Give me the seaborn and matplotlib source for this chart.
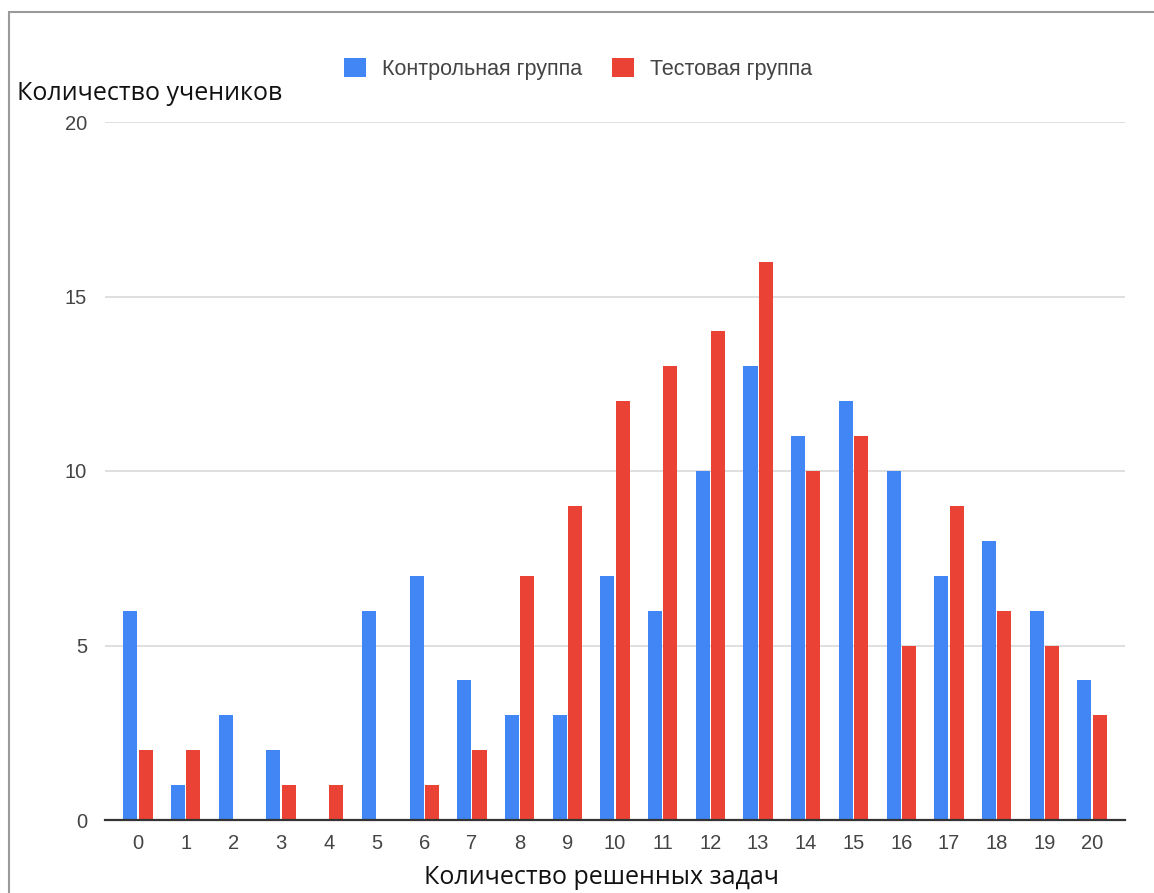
import pandas as pd
import matplotlib.pyplot as plt
import seaborn as sns
from matplotlib.patches import Rectangle, Patch

# Data
solved = list(range(21))
control = [6, 1, 3, 2, 0, 6, 7, 4, 3, 3, 7, 6, 10, 13, 11, 12, 10, 7, 8, 6, 4]
test = [2, 2, 0, 1, 1, 0, 1, 2, 7, 9, 12, 13, 14, 16, 10, 11, 5, 9, 6, 5, 3]
groups = ["Контрольная группа", "Тестовая группа"]
colors = ["#4285F4", "#EA4335"]

df = pd.DataFrame({
    "solved": solved * 2,
    "count": control + test,
    "group": [groups[0]] * len(solved) + [groups[1]] * len(solved),
})

sns.set_style("white")
plt.rcParams["font.family"] = ["Liberation Sans", "DejaVu Sans"]

fig = plt.figure(figsize=(11.54, 8.93), dpi=100)
ax = fig.add_axes([105 / 1154, 1 - 820 / 893, 1020 / 1154, 698 / 893])

sns.barplot(data=df, x="solved", y="count", hue="group", palette=colors,
            width=0.64, gap=0.08, ax=ax, legend=False, saturation=1,
            linewidth=0)

ax.set_xlim(-0.69, 20.69)
ax.set_ylim(0, 20)
ax.set_yticks([0, 5, 10, 15, 20])
ax.yaxis.grid(True, color="#d9d9d9", linewidth=1.2)
ax.set_axisbelow(True)
for s in ["top", "right", "left"]:
    ax.spines[s].set_visible(False)
ax.spines["bottom"].set_color("#333333")
ax.spines["bottom"].set_linewidth(1.6)
ax.tick_params(axis="both", length=0, labelsize=14.5, labelcolor="#444444")
ax.tick_params(axis="x", pad=10)
ax.tick_params(axis="y", pad=13)
ax.set_xlabel("")
ax.set_ylabel("")

# Axis titles, placed like the original
fig.text(17 / 1154, 1 - 94 / 893, "Количество учеников", fontsize=18,
         family=["Open Sans", "DejaVu Sans"], color="#111111", va="center", ha="left")
fig.text(601 / 1154, 1 - 877 / 893, "Количество решенных задач", fontsize=18,
         family=["Open Sans", "DejaVu Sans"], color="#111111", va="center", ha="center")

# Legend
handles = [Patch(facecolor=c, edgecolor="none") for c in colors]
fig.legend(handles, groups, loc="center", bbox_to_anchor=(578 / 1154, 1 - 69 / 893),
           ncol=2, frameon=False, fontsize=15.5, labelcolor="#444444",
           handlelength=1.02, handleheight=1.0, handletextpad=0.75, columnspacing=1.4)

# Outer frame
fig.patches.append(Rectangle((9 / 1154, -0.05), 1.2, 1 - 12 / 893 + 0.05,
                             transform=fig.transFigure, fill=False,
                             edgecolor="#9a9a9a", linewidth=1.5))

fig.savefig("out.png", dpi=100)
